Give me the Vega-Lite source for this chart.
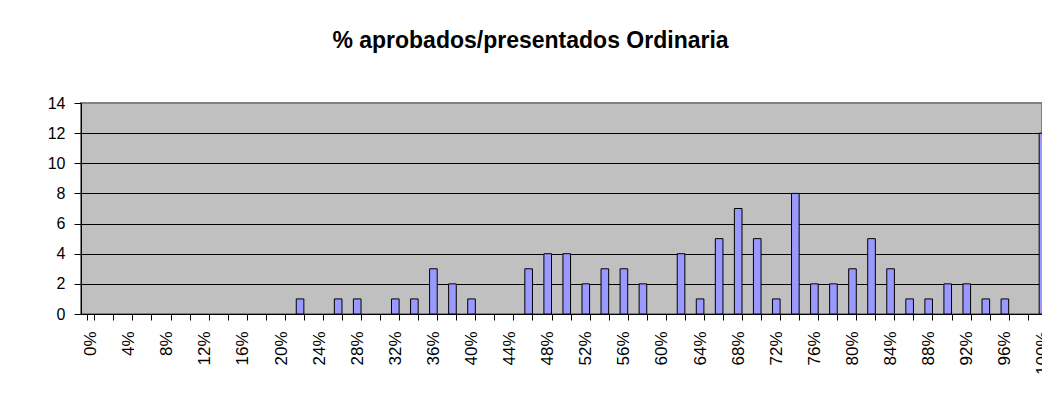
{
  "$schema": "https://vega.github.io/schema/vega-lite/v6.json",
  "autosize": {"type": "none"},
  "width": 961,
  "height": 211,
  "padding": {"left": 81, "top": 103, "right": 0, "bottom": 95},
  "background": "white",
  "title": {
    "text": "% aprobados/presentados Ordinaria",
    "font": "Liberation Sans",
    "fontSize": 23,
    "fontWeight": "bold",
    "color": "black",
    "anchor": "middle",
    "frame": "group",
    "baseline": "alphabetic",
    "offset": 24,
    "dx": -31
  },
  "config": {
    "view": {"fill": "#C0C0C0", "stroke": "#808080", "strokeWidth": 2},
    "font": "Liberation Sans"
  },
  "data": {
    "values": [
      {"pct": "22%", "n": 1}, {"pct": "26%", "n": 1}, {"pct": "28%", "n": 1},
      {"pct": "32%", "n": 1}, {"pct": "34%", "n": 1}, {"pct": "36%", "n": 3},
      {"pct": "38%", "n": 2}, {"pct": "40%", "n": 1}, {"pct": "46%", "n": 3},
      {"pct": "48%", "n": 4}, {"pct": "50%", "n": 4}, {"pct": "52%", "n": 2},
      {"pct": "54%", "n": 3}, {"pct": "56%", "n": 3}, {"pct": "58%", "n": 2},
      {"pct": "62%", "n": 4}, {"pct": "64%", "n": 1}, {"pct": "66%", "n": 5},
      {"pct": "68%", "n": 7}, {"pct": "70%", "n": 5}, {"pct": "72%", "n": 1},
      {"pct": "74%", "n": 8}, {"pct": "76%", "n": 2}, {"pct": "78%", "n": 2},
      {"pct": "80%", "n": 3}, {"pct": "82%", "n": 5}, {"pct": "84%", "n": 3},
      {"pct": "86%", "n": 1}, {"pct": "88%", "n": 1}, {"pct": "90%", "n": 2},
      {"pct": "92%", "n": 2}, {"pct": "94%", "n": 1}, {"pct": "96%", "n": 1},
      {"pct": "100%", "n": 12}
    ]
  },
  "mark": {"type": "bar", "fill": "#9999FF", "stroke": "black", "strokeWidth": 1},
  "encoding": {
    "x": {
      "field": "pct",
      "type": "ordinal",
      "sort": null,
      "scale": {
        "domain": ["0%","2%","4%","6%","8%","10%","12%","14%","16%","18%","20%","22%","24%","26%","28%","30%","32%","34%","36%","38%","40%","42%","44%","46%","48%","50%","52%","54%","56%","58%","60%","62%","64%","66%","68%","70%","72%","74%","76%","78%","80%","82%","84%","86%","88%","90%","92%","94%","96%","98%","100%"],
        "range": [0, 971.5],
        "paddingInner": 0.6,
        "paddingOuter": 0.3
      },
      "axis": {
        "title": null,
        "labelAngle": -90,
        "labelFontSize": 17,
        "labelColor": "black",
        "labelPadding": 11,
        "labelExpr": "parseInt(datum.value) % 4 === 0 ? datum.value : ''",
        "tickBand": "extent",
        "tickSize": 6,
        "tickColor": "black",
        "domainColor": "black",
        "labelOverlap": false,
        "grid": false
      }
    },
    "y": {
      "field": "n",
      "type": "quantitative",
      "scale": {"domain": [0, 14], "nice": false},
      "axis": {
        "title": null,
        "values": [0, 2, 4, 6, 8, 10, 12, 14],
        "labelFontSize": 16,
        "labelColor": "black",
        "labelPadding": 9,
        "tickSize": 7,
        "tickColor": "black",
        "domainColor": "black",
        "grid": true,
        "gridColor": {"condition": {"test": "datum.value === 14", "value": "#808080"}, "value": "black"},
        "gridWidth": 1,
        "gridOpacity": 1
      }
    }
  }
}
